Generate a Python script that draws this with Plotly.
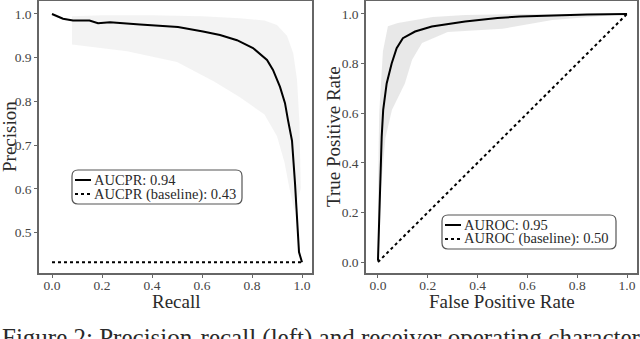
import plotly.graph_objects as go

# ---- Precision-recall (left) ----
pr_recall = [0.0, 0.019, 0.044, 0.084, 0.124, 0.15, 0.184, 0.232, 0.352, 0.472, 0.504, 0.604,
             0.672, 0.74, 0.804, 0.86, 0.884, 0.912, 0.932, 0.944, 0.96, 0.972, 0.98, 0.988, 1.0]
pr_precision = [1.0, 0.996, 0.989, 0.985, 0.984, 0.985, 0.979, 0.981, 0.976, 0.971, 0.970, 0.960,
                0.952, 0.940, 0.922, 0.895, 0.872, 0.833, 0.796, 0.757, 0.710, 0.613, 0.535, 0.455, 0.432]
pr_baseline_x = [0.0, 1.0]
pr_baseline_y = [0.432, 0.432]

# envelope of the bootstrap curves (light grey cloud)
pr_band_upper_x = [0.08, 0.2, 0.4, 0.6, 0.75, 0.85, 0.9, 0.94, 0.965, 0.98, 0.99, 0.995]
pr_band_upper_y = [0.995, 0.997, 0.997, 0.995, 0.99, 0.985, 0.975, 0.95, 0.91, 0.85, 0.75, 0.6]
pr_band_lower_x = [0.97, 0.95, 0.93, 0.9, 0.85, 0.8, 0.75, 0.65, 0.5, 0.3, 0.15, 0.08]
pr_band_lower_y = [0.55, 0.6, 0.66, 0.72, 0.77, 0.79, 0.81, 0.845, 0.89, 0.915, 0.925, 0.93]

# ---- ROC (right) ----
roc_fpr = [0.0, 0.008, 0.015, 0.021, 0.035, 0.055, 0.075, 0.10, 0.149, 0.216, 0.35, 0.48,
           0.57, 0.84, 1.0]
roc_tpr = [0.005, 0.30, 0.505, 0.613, 0.72, 0.80, 0.862, 0.902, 0.929, 0.949, 0.969, 0.983,
           0.99, 0.998, 1.0]
roc_baseline_x = [0.0, 1.0]
roc_baseline_y = [0.0, 1.0]

roc_band_upper_x = [0.0, 0.0, 0.005, 0.02, 0.04, 0.08, 0.22, 0.35, 0.6, 1.0]
roc_band_upper_y = [0.0, 0.3, 0.6, 0.85, 0.95, 0.963, 0.988, 0.996, 1.0, 1.0]
roc_band_lower_x = [1.0, 0.7, 0.5, 0.28, 0.177, 0.137, 0.108, 0.056, 0.03, 0.012, 0.0]
roc_band_lower_y = [1.0, 0.975, 0.94, 0.927, 0.883, 0.815, 0.72, 0.613, 0.5, 0.3, 0.0]

ticks01 = [0, 0.2, 0.4, 0.6, 0.8, 1.0]
ticks01_text = ["0.0", "0.2", "0.4", "0.6", "0.8", "1.0"]
ticks_prec = [0.5, 0.6, 0.7, 0.8, 0.9, 1.0]
ticks_prec_text = ["0.5", "0.6", "0.7", "0.8", "0.9", "1.0"]

pr_legend_labels = ["AUCPR: 0.94", "AUCPR (baseline): 0.43"]
roc_legend_labels = ["AUROC: 0.95", "AUROC (baseline): 0.50"]

caption = "Figure 2: Precision-recall (left) and receiver operating characteristic curves"

W, H = 640, 339
serif = "Liberation Serif"
txt = "#2a2a2a"


def px(x):
    return x / W


def py(y):
    return 1 - y / H


fig = go.Figure()

# grey clouds
fig.add_trace(go.Scatter(x=pr_band_upper_x + pr_band_lower_x, y=pr_band_upper_y + pr_band_lower_y,
                         fill="toself", fillcolor="rgba(240,240,240,0.8)", line=dict(width=0),
                         mode="lines", showlegend=False, hoverinfo="skip", xaxis="x", yaxis="y"))
fig.add_trace(go.Scatter(x=roc_band_upper_x + roc_band_lower_x, y=roc_band_upper_y + roc_band_lower_y,
                         fill="toself", fillcolor="rgba(228,228,228,0.85)", line=dict(width=0),
                         mode="lines", showlegend=False, hoverinfo="skip", xaxis="x2", yaxis="y2"))

fig.add_trace(go.Scatter(x=pr_recall, y=pr_precision, mode="lines", line=dict(color="black", width=2),
                         name=pr_legend_labels[0], xaxis="x", yaxis="y"))
fig.add_trace(go.Scatter(x=pr_baseline_x, y=pr_baseline_y, mode="lines",
                         line=dict(color="black", width=2, dash="dot"),
                         name=pr_legend_labels[1], xaxis="x", yaxis="y"))
fig.add_trace(go.Scatter(x=roc_fpr, y=roc_tpr, mode="lines", line=dict(color="black", width=2),
                         name=roc_legend_labels[0], xaxis="x2", yaxis="y2"))
fig.add_trace(go.Scatter(x=roc_baseline_x, y=roc_baseline_y, mode="lines",
                         line=dict(color="black", width=2, dash="dot"),
                         name=roc_legend_labels[1], xaxis="x2", yaxis="y2"))

axis_style = dict(showline=True, mirror=True, linecolor="#666666", linewidth=1.5,
                  ticks="outside", ticklen=3, tickcolor="#666666", showgrid=False, zeroline=False,
                  automargin=False, tickfont=dict(family=serif, size=13.5, color="#444444"))
title_font = dict(family=serif, size=19, color=txt)

# legends drawn as rounded boxes with short line samples (matplotlib style)
shapes = []
annotations = []
for (bx0, by0, bx1, by1), labels in [((72, 170, 242, 204), pr_legend_labels),
                                     ((442, 215, 616, 249), roc_legend_labels)]:
    r = 6
    path = (f"M {px(bx0 + r)},{py(by0)} L {px(bx1 - r)},{py(by0)} Q {px(bx1)},{py(by0)} {px(bx1)},{py(by0 + r)} "
            f"L {px(bx1)},{py(by1 - r)} Q {px(bx1)},{py(by1)} {px(bx1 - r)},{py(by1)} "
            f"L {px(bx0 + r)},{py(by1)} Q {px(bx0)},{py(by1)} {px(bx0)},{py(by1 - r)} "
            f"L {px(bx0)},{py(by0 + r)} Q {px(bx0)},{py(by0)} {px(bx0 + r)},{py(by0)} Z")
    shapes.append(dict(type="path", path=path, xref="paper", yref="paper",
                       line=dict(color="#555555", width=1.2), fillcolor="rgba(255,255,255,0.9)"))
    for i, (lab, dash) in enumerate(zip(labels, ["solid", "dot"])):
        yy = by0 + 10 + 14 * i
        shapes.append(dict(type="line", xref="paper", yref="paper", x0=px(bx0 + 3), x1=px(bx0 + 19),
                           y0=py(yy), y1=py(yy), line=dict(color="black", width=2, dash=dash)))
        annotations.append(dict(text=lab, x=px(bx0 + 20), y=py(yy), xref="paper", yref="paper",
                                xanchor="left", yanchor="middle", showarrow=False,
                                font=dict(family=serif, size=14.5, color=txt)))

# axis titles
annotations += [
    dict(text="Recall", x=px(176), y=py(301), xref="paper", yref="paper", showarrow=False,
         xanchor="center", yanchor="middle", font=title_font),
    dict(text="False Positive Rate", x=px(502), y=py(301), xref="paper", yref="paper", showarrow=False,
         xanchor="center", yanchor="middle", font=title_font),
    dict(text="Precision", x=px(9), y=py(137), xref="paper", yref="paper", showarrow=False,
         textangle=-90, xanchor="center", yanchor="middle", font=title_font),
    dict(text="True Positive Rate", x=px(333), y=py(137), xref="paper", yref="paper", showarrow=False,
         textangle=-90, xanchor="center", yanchor="middle", font=title_font),
    dict(text=caption, x=0, y=py(322), xref="paper", yref="paper", xanchor="left", yanchor="top",
         showarrow=False, font=dict(family=serif, size=25, color=txt)),
]

fig.update_layout(
    width=W, height=H,
    margin=dict(l=0, r=0, t=0, b=0),
    paper_bgcolor="white", plot_bgcolor="white",
    font=dict(family=serif, color=txt),
    showlegend=False,
    xaxis=dict(domain=[px(39), px(312)], range=[-0.052, 1.04], tickvals=ticks01, ticktext=ticks01_text,
               ticklabelstandoff=-4, **axis_style),
    yaxis=dict(domain=[py(273), py(1)], range=[0.4073, 1.0297], tickvals=ticks_prec,
               ticktext=ticks_prec_text, **axis_style),
    xaxis2=dict(domain=[px(366), px(637)], range=[-0.048, 1.04], anchor="y2",
                tickvals=ticks01, ticktext=ticks01_text, ticklabelstandoff=-4, **axis_style),
    yaxis2=dict(domain=[py(273), py(1)], range=[-0.044, 1.052], anchor="x2",
                tickvals=ticks01, ticktext=ticks01_text, **axis_style),
    shapes=shapes,
    annotations=annotations,
)

# the page's default 8px body margin would shift the figure, so drop it
fig.write_html("out.html", config={"displayModeBar": False},
               post_script="document.body.style.margin='0px';")
